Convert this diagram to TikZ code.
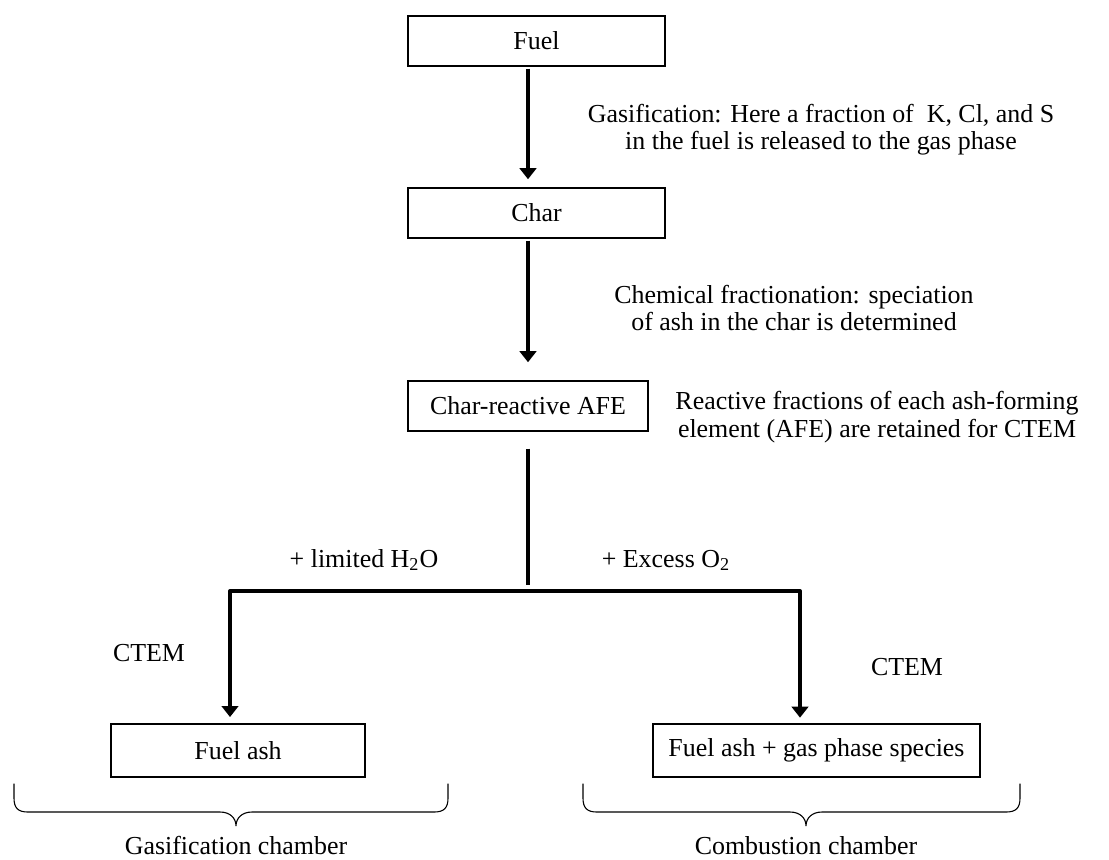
\documentclass[tikz,border=0pt]{standalone}
\usepackage{fontspec}
\setmainfont{Liberation Serif}
\usepackage{tikz}
\usetikzlibrary{calc,arrows.meta}
\definecolor{ink}{HTML}{000000}
\tikzset{
  box/.style={draw=ink, line width=0.6pt, inner sep=0pt, minimum height=8mm, font=\fontsize{11.8pt}{12.4pt}\selectfont},
  note/.style={text=ink, align=center, inner sep=0pt, font=\fontsize{11.8pt}{12.4pt}\selectfont},
  stem/.style={draw=ink, line width=1.8pt, line cap=butt, line join=round},
  flow/.style={stem, -{Triangle[length=5pt,width=7.5pt]}},
  branch/.style={stem, {Triangle[length=5pt,width=7.5pt]}-{Triangle[length=5pt,width=7.5pt]}},
  brace/.style={draw=ink, line width=0.5pt, line cap=round},
}
\begin{document}
\begin{tikzpicture}[x=0.16mm,y=-0.16mm]
  \useasboundingbox (0,0) rectangle (1109,859);
  \node[box, minimum width=41.1mm] (fuel) at (536.5,41) {Fuel};
  \node[box, minimum width=41.1mm] (char) at (536.5,213) {Char};
  \node[box, minimum width=38.4mm] (afe) at (528,406) {Char-reactive AFE};
  \node[box, minimum width=40.6mm, minimum height=8.5mm] (ash) at (238,750.5) {Fuel ash};
  \node[box, minimum width=52.3mm, minimum height=8.5mm] (gas) at (816.5,750.5) {Fuel ash + gas phase species};
  \coordinate (split) at (528,591);
  \coordinate (bl) at (230,591);
  \coordinate (br) at (800,591);
  \draw[flow, shorten <=0.3mm, shorten >=1.3mm] (fuel.south -| afe) -- (char.north -| afe);
  \draw[flow, shorten <=0.3mm, shorten >=2.9mm] (char.south -| afe) -- (afe.north);
  \draw[stem, shorten <=2.7mm, shorten >=1mm] (afe.south) -- (split);
  \draw[branch, shorten <=1mm, shorten >=0.9mm] (ash.north -| bl) -- (bl) -- (br) -- (gas.north -| br);
  \node[note] (gasnote) at (821,130) {Gasification: Here a fraction of \ K, Cl, and S\\in the fuel is released to the gas phase};
  \node[note] (chemnote) at (794,308) {Chemical fractionation: speciation\\of ash in the char is determined};
  \node[note] (afenote) at (877,417) {Reactive fractions of each ash-forming\\element (AFE) are retained for CTEM};
  \node[note, anchor=base] (water) at (364,567) {+ limited H\textsubscript{2}O};
  \node[note, anchor=base] (oxygen) at (666,567) {+ Excess O\textsubscript{2}};
  \node[note] (ctemgas) at (149,653) {CTEM};
  \node[note] (ctemcomb) at (907,667) {CTEM};
  \foreach \L/\T/\R in {14/236/448, 583/806/1020}
    \draw[brace] (\L,784) -- (\L,798) .. controls (\L,808) and (\L+4,812) .. (\L+14,812)
      -- (\T-16,812) .. controls (\T-6,812) and (\T,818) .. (\T,826)
      .. controls (\T,818) and (\T+6,812) .. (\T+16,812)
      -- (\R-14,812) .. controls (\R-4,812) and (\R,808) .. (\R,798) -- (\R,784);
  \node[note, anchor=base] (gaslabel) at (236,854) {Gasification chamber};
  \node[note, anchor=base] (comblabel) at (806,854) {Combustion chamber};
\end{tikzpicture}
\end{document}
